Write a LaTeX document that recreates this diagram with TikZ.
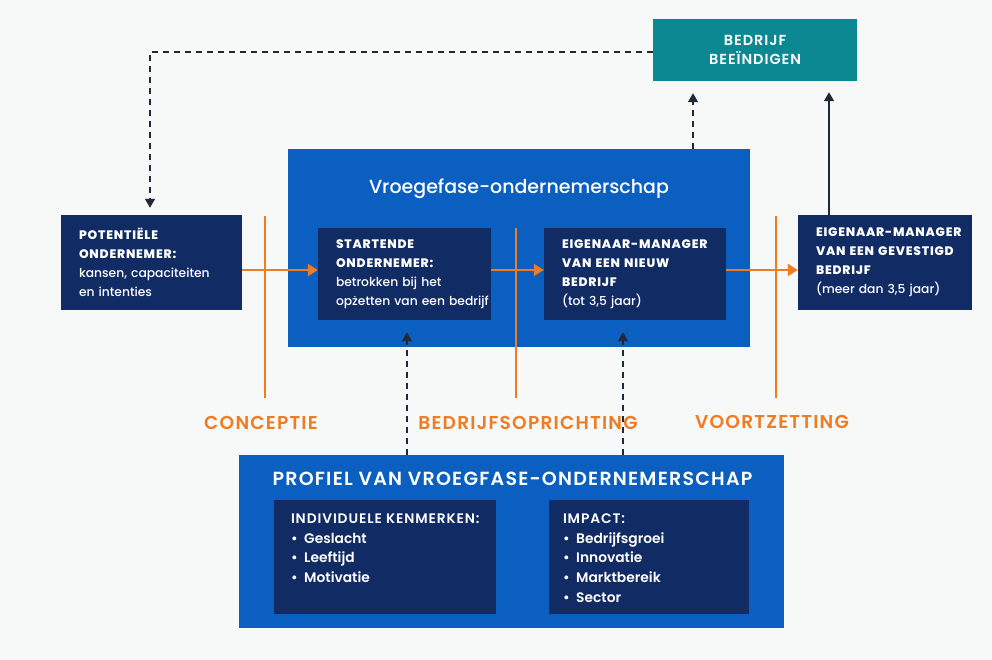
\documentclass[tikz,border=0pt]{standalone}
\usepackage{fontspec}
\setmainfont{Poppins}[BoldFont={Poppins SemiBold}]
\newfontfamily\medfont{Poppins Medium}
\newcommand{\wcaps}[1]{\mbox{\bfseries\addfontfeatures{LetterSpace=6.5}#1}}
\usetikzlibrary{arrows.meta,calc}
\definecolor{bgc}{HTML}{F7F8F8}
\definecolor{mainblue}{HTML}{0B5FC1}
\definecolor{navy}{HTML}{112B65}
\definecolor{tealc}{HTML}{0B8891}
\definecolor{orangec}{HTML}{F07C22}
\definecolor{arrowc}{HTML}{1F2937}
\begin{document}
\begin{tikzpicture}[x=1pt,y=-1pt,
  navybox/.style={fill=navy, draw=none, text=white, align=left, inner xsep=18pt,
    font=\fontsize{12.3}{19}\selectfont\medfont},
  plainbox/.style={draw=none, inner sep=0pt},
  bluebox/.style={fill=mainblue, draw=none, inner sep=0pt},
  tealbox/.style={fill=tealc, draw=none, text=white, align=center,
    font=\fontsize{14.5}{19}\selectfont},
  phase/.style={draw=orangec, line width=2.4pt},
  phaselabel/.style={text=orangec, font=\fontsize{18.6}{21}\selectfont},
  flow/.style={draw=orangec, line width=2.2pt, -{Triangle[width=12pt,length=10pt]}},
  dasharrow/.style={draw=arrowc, line width=1.5pt, dash pattern=on 6pt off 5pt,
    -{Triangle[width=10pt,length=9pt]}},
  solidarrow/.style={draw=arrowc, line width=1.5pt, -{Triangle[width=10pt,length=9pt]}},
  listtext/.style={text=white, align=left, anchor=north west, inner sep=0pt,
    font=\fontsize{13.8}{19.6}\selectfont},
]
\useasboundingbox[fill=bgc] (0,0) rectangle (992,660);

% boxes
\node[bluebox, minimum width=462pt, minimum height=198pt] (vroeg) at (519,248) {};
\node[text=white, font=\fontsize{19}{22}\selectfont\medfont] (vroegtitle) at (519,189) {Vroegefase-ondernemerschap};

\node[tealbox, minimum width=204pt, minimum height=62pt] (stop) at (755,50) {\wcaps{BEDRIJF}\\\wcaps{BEEÏNDIGEN}};

\node[navybox, minimum width=181pt, minimum height=95pt, text width=145pt] (pot) at (151.5,262.5)
  {\wcaps{POTENTIËLE}\\\wcaps{ONDERNEMER:}\\\mbox{kansen, capaciteiten}\\en intenties};
\node[navybox, minimum width=173pt, minimum height=92pt, text width=137pt] (start) at (404.5,274)
  {\wcaps{STARTENDE}\\\wcaps{ONDERNEMER:}\\\mbox{betrokken bij het}\\\mbox{opżetten van een bedrijf}};
\node[navybox, minimum width=182pt, minimum height=92pt, text width=146pt] (nieuw) at (635,274)
  {\wcaps{EIGENAAR-MANAGER}\\\wcaps{VAN EEN NIEUW}\\\wcaps{BEDRIJF}\\(tot 3,5 jaar)};
\node[navybox, minimum width=174pt, minimum height=95pt, text width=138pt] (gev) at (885,262.5)
  {\wcaps{EIGENAAR-MANAGER}\\\wcaps{VAN EEN GEVESTIGD}\\\wcaps{BEDRIJF}\\\mbox{(meer dan 3,5 jaar)}};

% profile box
\node[bluebox, minimum width=545pt, minimum height=173pt] (prof) at (511.5,541.5) {};
\node[text=white, font=\fontsize{19}{21}\selectfont] (proftitle) at (512.5,479) {\wcaps{PROFIEL VAN VROEGFASE-ONDERNEMERSCHAP}};
\node[fill=navy, plainbox, minimum width=222pt, minimum height=114pt] (ind) at (385,557) {};
\node[fill=navy, plainbox, minimum width=200pt, minimum height=114pt] (imp) at (649,557) {};
\node[listtext] (indtext) at ($(ind.north west)+(17,14)$)
  {\wcaps{INDIVIDUELE KENMERKEN:}\\\textbf{•\ \ Geslacht}\\\textbf{•\ \ Leeftijd}\\\textbf{•\ \ Motivatie}};
\node[listtext] (imptext) at ($(imp.north west)+(14,14)$)
  {\wcaps{IMPACT:}\\\textbf{•\ \ Bedrijfsgroei}\\\textbf{•\ \ Innovatie}\\\textbf{•\ \ Marktbereik}\\\textbf{•\ \ Sector}};

% phase lines
\coordinate (p1t) at (265,216); \coordinate (p1b) at (265,398);
\coordinate (p2t) at (516,228); \coordinate (p2b) at (516,398);
\coordinate (p3t) at (776,216); \coordinate (p3b) at (776,398);
\draw[phase] (p1t) -- (p1b);
\draw[phase] (p2t) -- (p2b);
\draw[phase] (p3t) -- (p3b);
\node[phaselabel] (lconc) at (261,423) {\wcaps{CONCEPTIE}};
\node[phaselabel] (lopr) at (528,423) {\wcaps{BEDRIJFSOPRICHTING}};
\node[phaselabel] (lvoort) at (772,422) {\wcaps{VOORTZETTING}};

% flow arrows
\coordinate (ay) at (0,270);
\draw[flow] (pot.east |- ay) -- (start.west |- ay);
\draw[flow] (start.east |- ay) -- (nieuw.west |- ay);
\draw[flow] (nieuw.east |- ay) -- (gev.west |- ay);

% feedback dashed arrow
\coordinate (fb) at (150,52);
\draw[dasharrow] (stop.west |- fb) -- (fb) -- ($(pot.north -| fb)+(0,-7)$);

% arrows to stop
\coordinate (x1) at (693,0);
\coordinate (x2) at (829,0);
\draw[dasharrow] (vroeg.north -| x1) -- ($(stop.south -| x1)+(0,12)$);
\draw[solidarrow] (gev.north -| x2) -- ($(stop.south -| x2)+(0,11)$);

% arrows from profile
\coordinate (x3) at (407,0);
\coordinate (x4) at (623,0);
\draw[dasharrow] (prof.north -| x3) -- ($(start.south -| x3)+(0,12)$);
\draw[dasharrow] (prof.north -| x4) -- ($(nieuw.south -| x4)+(0,12)$);
\end{tikzpicture}
\end{document}
